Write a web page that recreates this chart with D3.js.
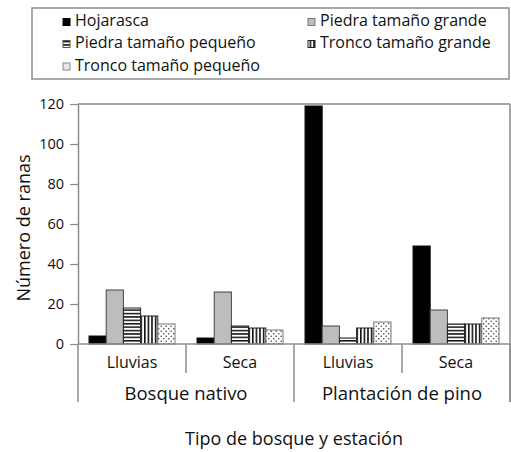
<!DOCTYPE html>
<html>
<head>
<meta charset="utf-8">
<script src="https://cdn.jsdelivr.net/npm/d3@7"></script>
<style>
  html, body { margin: 0; padding: 0; background: #fff; }
  svg { display: block; font-family: "Open Sans", "Noto Sans", sans-serif; }
</style>
</head>
<body>
<svg id="chart" width="511" height="452"></svg>
<script>
// ---- data ----
const seasons = ["Lluvias", "Seca", "Lluvias", "Seca"];
const forestTypes = ["Bosque nativo", "Plantación de pino"];
const seriesNames = ["Hojarasca", "Piedra tamaño grande", "Piedra tamaño pequeño", "Tronco tamaño grande", "Tronco tamaño pequeño"];
const hojarasca = [4, 3, 119, 49];
const piedraGrande = [27, 26, 9, 17];
const piedraPequeno = [18, 9, 3, 10];
const troncoGrande = [14, 8, 8, 10];
const troncoPequeno = [10, 7, 11, 13];
const yTicks = [0, 20, 40, 60, 80, 100, 120];
const yTitle = "Número de ranas";
const xTitle = "Tipo de bosque y estación";

const seriesValues = [hojarasca, piedraGrande, piedraPequeno, troncoGrande, troncoPequeno];

// ---- layout ----
const svg = d3.select("#chart");
const pLeft = 78, pRight = 510, pTop = 104, pBottom = 344;

const catIds = seasons.map((s, i) => i);
const x0 = d3.scaleBand().domain(catIds).range([pLeft, pRight]).padding(0);
const x1 = d3.scaleBand().domain(d3.range(seriesNames.length))
  .range([0, x0.bandwidth()]).paddingInner(0).paddingOuter(0.64);
const y = d3.scaleLinear().domain([0, 120]).range([pBottom, pTop]);

// ---- patterns ----
const defs = svg.append("defs");
const ph = defs.append("pattern").attr("id", "hstripe").attr("patternUnits", "userSpaceOnUse")
  .attr("width", 6).attr("height", 3.4);
ph.append("rect").attr("width", 6).attr("height", 3.4).attr("fill", "#fff");
ph.append("rect").attr("y", 0).attr("width", 6).attr("height", 1.5).attr("fill", "#111");

const pv = defs.append("pattern").attr("id", "vstripe").attr("patternUnits", "userSpaceOnUse")
  .attr("width", 3.6).attr("height", 6);
pv.append("rect").attr("width", 3.6).attr("height", 6).attr("fill", "#fff");
pv.append("rect").attr("x", 0).attr("width", 1.6).attr("height", 6).attr("fill", "#111");

const pd = defs.append("pattern").attr("id", "dots").attr("patternUnits", "userSpaceOnUse")
  .attr("width", 5).attr("height", 5);
pd.append("rect").attr("width", 5).attr("height", 5).attr("fill", "#fff");
pd.append("circle").attr("cx", 1.2).attr("cy", 1.2).attr("r", 0.8).attr("fill", "#444");
pd.append("circle").attr("cx", 3.7).attr("cy", 3.7).attr("r", 0.8).attr("fill", "#444");

const fills = ["#000", "#bdbdbd", "url(#hstripe)", "url(#vstripe)", "url(#dots)"];
const strokes = ["#111", "#444", "#222", "#222", "#777"];

// ---- plot frame (top and right) ----
svg.append("line").attr("x1", pLeft).attr("x2", pRight).attr("y1", pTop).attr("y2", pTop)
  .attr("stroke", "#a6a6a6").attr("stroke-width", 2);
svg.append("line").attr("x1", pRight).attr("x2", pRight).attr("y1", pTop).attr("y2", 402)
  .attr("stroke", "#a6a6a6").attr("stroke-width", 2);

// ---- bars ----
const barData = [];
seriesValues.forEach((vals, s) => vals.forEach((v, c) => barData.push({ s, c, v })));
svg.append("g").selectAll("rect").data(barData).join("rect")
  .attr("x", d => x0(d.c) + x1(d.s))
  .attr("y", d => y(d.v))
  .attr("width", x1.bandwidth())
  .attr("height", d => y(0) - y(d.v))
  .attr("fill", d => fills[d.s])
  .attr("stroke", d => strokes[d.s])
  .attr("stroke-width", 1);

// ---- y axis ----
const yAxis = svg.append("g").attr("transform", `translate(${pLeft},0)`)
  .call(d3.axisLeft(y).tickValues(yTicks).tickSize(8).tickPadding(6).tickSizeOuter(0));
yAxis.select(".domain").attr("stroke", "#8c8c8c").attr("stroke-width", 1.5);
yAxis.selectAll(".tick line").attr("stroke", "#8c8c8c").attr("stroke-width", 1.2);
yAxis.selectAll(".tick text").attr("fill", "#111").style("font-size", "14.5px")
  .style("font-family", "'Open Sans', sans-serif");

svg.append("text").attr("transform", `translate(25,${(pTop + pBottom) / 2 + 4}) rotate(-90)`)
  .attr("text-anchor", "middle").attr("dominant-baseline", "middle")
  .style("font-size", "18px").attr("fill", "#111").text(yTitle);

// ---- category axis ----
svg.append("line").attr("x1", pLeft).attr("x2", pRight).attr("y1", pBottom).attr("y2", pBottom)
  .attr("stroke", "#8c8c8c").attr("stroke-width", 1.5);
// season dividers
catIds.forEach(i => {
  if (i % 2 === 0) {
    const xx = x0(i) + x0.bandwidth();
    svg.append("line").attr("x1", xx).attr("x2", xx).attr("y1", pBottom).attr("y2", 373)
      .attr("stroke", "#8c8c8c").attr("stroke-width", 1.5);
  }
});
// group dividers
[0, 2, 4].forEach(i => {
  const xx = i < 4 ? x0(i) : x0(3) + x0.bandwidth();
  svg.append("line").attr("x1", xx).attr("x2", xx).attr("y1", pBottom).attr("y2", 402)
    .attr("stroke", "#8c8c8c").attr("stroke-width", 1.5);
});
svg.append("g").selectAll("text").data(catIds).join("text")
  .attr("x", d => x0(d) + x0.bandwidth() / 2)
  .attr("y", 364).attr("text-anchor", "middle").attr("dominant-baseline", "middle")
  .style("font-size", "16px").attr("fill", "#111").text(d => seasons[d]);
svg.append("g").selectAll("text").data(forestTypes).join("text")
  .attr("x", (d, i) => x0(i * 2) + x0.bandwidth())
  .attr("y", 395).attr("text-anchor", "middle").attr("dominant-baseline", "middle")
  .style("font-size", "18.5px").attr("fill", "#111").text(d => d);

svg.append("text").attr("x", 294).attr("y", 440)
  .attr("text-anchor", "middle").attr("dominant-baseline", "middle")
  .style("font-size", "18px").attr("fill", "#111").text(xTitle);

// ---- legend ----
const lg = svg.append("g");
lg.append("rect").attr("x", 32).attr("y", 8).attr("width", 477).attr("height", 71)
  .attr("fill", "#fff").attr("stroke", "#8c8c8c").attr("stroke-width", 1.5);
const legPos = [[63, 22], [308, 22], [63, 44], [308, 44], [63, 66.5]];
const legFills = ["#000", "#bdbdbd", "url(#hstripe)", "url(#vstripe)", "#e8e8e8"];
const legStrokes = ["#000", "#777", "#555", "#222", "#888"];
seriesNames.forEach((name, i) => {
  const [lx, ly] = legPos[i];
  lg.append("rect").attr("x", lx).attr("y", ly - 3.5).attr("width", 7).attr("height", 7)
    .attr("fill", legFills[i]).attr("stroke", legStrokes[i]).attr("stroke-width", 1);
  lg.append("text").attr("x", lx + 12).attr("y", ly).attr("dominant-baseline", "middle")
    .style("font-size", "16px").attr("fill", "#111").text(name);
});
</script>
</body>
</html>
